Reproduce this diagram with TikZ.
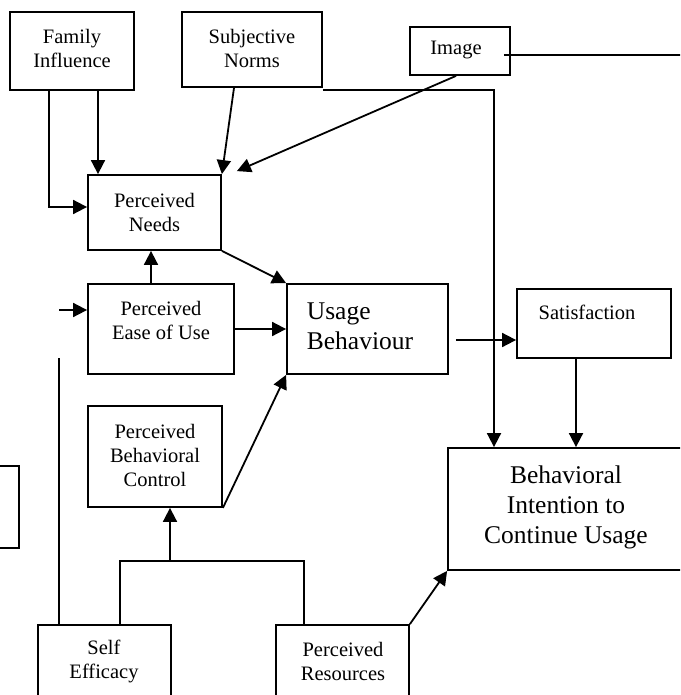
\documentclass[tikz,border=0pt]{standalone}
\usepackage{fontspec}
\setmainfont{Liberation Serif}
\usetikzlibrary{arrows.meta}
\begin{document}
\begin{tikzpicture}[x=1pt,y=-1pt,line width=1.8pt,
  box/.style={draw,inner sep=0pt},
  txt/.style={align=center,font=\fontsize{20.5}{24}\selectfont,inner sep=0pt},
  big/.style={align=center,font=\fontsize{25.5}{30}\selectfont,inner sep=0pt},
  arr/.style={-{Triangle[length=14pt,width=14pt]}}]
\useasboundingbox (0,0) rectangle (680,695);
\clip (0,0) rectangle (680,695);
% boxes
\node[box,minimum width=124pt,minimum height=78pt] (fam) at (72,51) {};
\node[box,minimum width=140pt,minimum height=75pt] (sub) at (252,49.5) {};
\node[box,minimum width=100pt,minimum height=48pt] (img) at (460,51) {};
\node[box,minimum width=133pt,minimum height=75pt] (need) at (154.5,212.5) {};
\node[box,minimum width=146pt,minimum height=90pt] (ease) at (161,329) {};
\node[box,minimum width=161pt,minimum height=90pt] (usage) at (367.5,329) {};
\node[box,minimum width=154pt,minimum height=69pt] (sat) at (594,323.5) {};
\node[box,minimum width=134pt,minimum height=101pt] (pbc) at (155,456.5) {};
\node[box,minimum width=272pt,minimum height=122pt] (bi) at (584,509) {};
\node[box,minimum width=133pt,minimum height=95pt] (self) at (104.5,672.5) {};
\node[box,minimum width=133pt,minimum height=95pt] (res) at (342.5,672.5) {};
\node[box,minimum width=69pt,minimum height=82pt] (lbox) at (-15.5,507) {};
% texts
\node[txt] (tfam) at (72,48) {Family\\Influence};
\node[txt] (tsub) at (252,48) {Subjective\\Norms};
\node[txt] (timg) at (456,50) {Image};
\node[txt] (tneed) at (154.5,212) {Perceived\\Needs};
\node[txt] (tease) at (161,320) {Perceived\\Ease of Use};
\node[big,anchor=west,align=left] (tusage) at (306,326) {Usage\\Behaviour};
\node[txt] (tsat) at (587,312) {Satisfaction};
\node[txt] (tpbc) at (155,455) {Perceived\\Behavioral\\Control};
\node[big] (tbi) at (566,507) {Behavioral\\Intention to\\Continue Usage};
\node[txt] (tself) at (104,661) {Self\\Efficacy};
\node[txt] (tres) at (343,661) {Perceived\\Resources};
% helper coordinates
\coordinate (f1) at ([xshift=26pt]fam.south);
\coordinate (f2) at ([xshift=-23pt]fam.south);
\coordinate (n2) at ([yshift=5.5pt]need.west);
\coordinate (in1) at (59,310);
\coordinate (up1) at (59,358);
\coordinate (out1) at (700,55);
\coordinate (u1) at ([shift={(7pt,-11pt)}]usage.east);
\coordinate (s1) at ([xshift=-18pt]sat.south);
\coordinate (j1) at (170,561);
% connectors
\draw[arr] (f1) -- (f1 |- need.north);
\draw[arr] (f2) |- (n2);
\draw[arr] ([xshift=-18pt]sub.south) -- (need.north east);
\draw[arr] ([xshift=-4pt]img.south) -- ([shift={(15pt,3pt)}]need.north east);
\draw[arr] ([yshift=-2pt]sub.south east) -| ([xshift=-90pt]bi.north);
\draw ([shift={(-7pt,-4pt)}]img.east) -- (out1);
\draw[arr] ([xshift=-10pt]ease.north) -- ([xshift=-3.5pt]need.south);
\draw[arr] (in1) -- (in1 -| ease.west);
\draw (up1) -- (up1 |- self.north);
\draw[arr] (ease.east) -- (usage.west);
\draw[arr] (need.south east) -- (usage.north west);
\draw[arr] (pbc.south east) -- (usage.south west);
\draw[arr] (u1) -- (u1 -| sat.west);
\draw[arr] (s1) -- (s1 |- bi.north);
\draw ([xshift=15.5pt]self.north) |- (j1) -| ([xshift=-38.5pt]res.north);
\draw[arr] (j1) -- (j1 |- pbc.south);
\draw[arr] (res.north east) -- (bi.south west);
\end{tikzpicture}
\end{document}
